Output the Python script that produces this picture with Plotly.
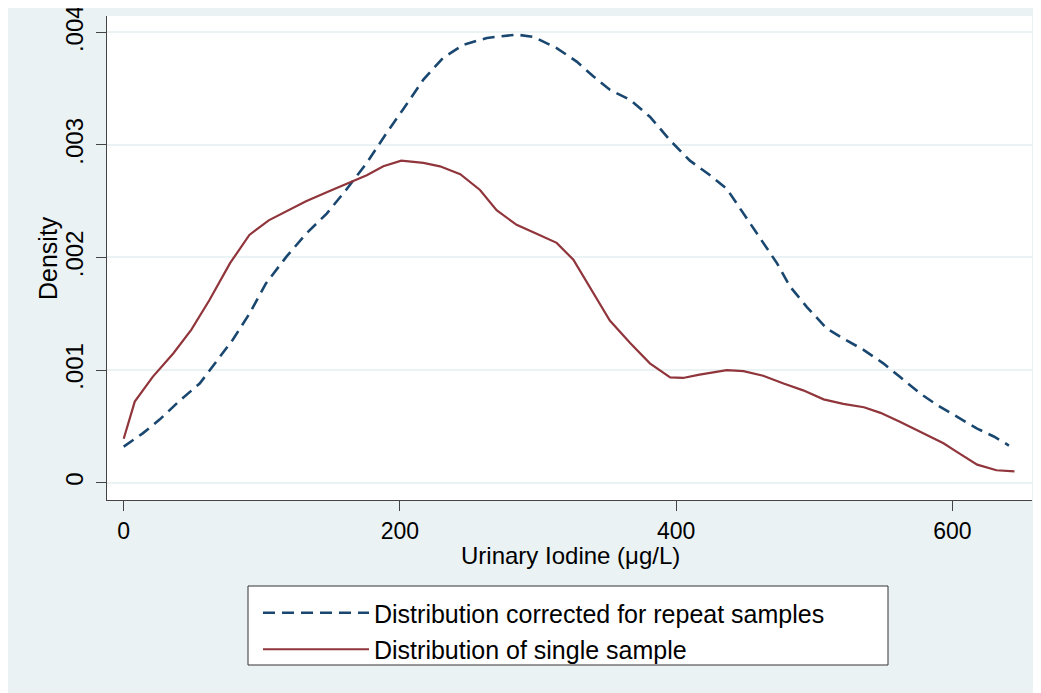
import plotly.graph_objects as go

# Distribution corrected for repeat samples (dashed)
corr_x = [0, 14, 26, 40.6, 55, 69.6, 79, 91, 103, 118, 132, 147, 161, 176, 190, 202, 217, 231, 246, 263,
          284.5, 296.6, 313.5, 328, 340, 352, 366.7, 381, 395.7, 410, 424.6, 436.7, 448.8, 460.9, 473,
          482.6, 494.7, 509, 521, 535.7, 550, 562, 577, 589, 603, 618, 630, 641]
corr_y = [0.32, 0.44, 0.56, 0.73, 0.88, 1.12, 1.27, 1.50, 1.77, 2.01, 2.21, 2.39, 2.60, 2.84, 3.10, 3.31,
          3.58, 3.77, 3.89, 3.95, 3.98, 3.96, 3.86, 3.74, 3.61, 3.49, 3.40, 3.25, 3.04, 2.86, 2.73, 2.61,
          2.39, 2.18, 1.95, 1.74, 1.56, 1.37, 1.28, 1.18, 1.06, 0.94, 0.79, 0.69, 0.59, 0.48, 0.41, 0.33]

# Distribution of single sample (solid)
single_x = [0, 8, 21, 36, 49, 62, 77, 91, 105, 118, 132, 147, 164, 176, 188, 201, 217, 229, 243.7, 258,
            270, 284.5, 299, 313.5, 325.6, 340, 352, 366.7, 381, 395.7, 405, 417, 436.7, 448.8, 463,
            477.8, 492, 506.8, 521, 536, 548, 562, 579, 593.6, 603, 618, 632, 645]
single_y = [0.39, 0.72, 0.94, 1.15, 1.36, 1.62, 1.95, 2.20, 2.33, 2.41, 2.50, 2.58, 2.67, 2.73, 2.81, 2.86,
            2.84, 2.81, 2.74, 2.60, 2.42, 2.29, 2.21, 2.13, 1.98, 1.68, 1.44, 1.24, 1.06, 0.935, 0.93,
            0.96, 1.00, 0.99, 0.95, 0.88, 0.82, 0.74, 0.70, 0.67, 0.62, 0.54, 0.44, 0.35, 0.275, 0.16,
            0.11, 0.10]

x_ticks = [0, 200, 400, 600]
x_tick_labels = ["0", "200", "400", "600"]
y_ticks = [0, 0.001, 0.002, 0.003, 0.004]
y_tick_labels = ["0", ".001", ".002", ".003", ".004"]

corr_y = [v / 1000 for v in corr_y]
single_y = [v / 1000 for v in single_y]

FONT = "Liberation Sans"
BG = "#EAF2F3"

fig = go.Figure()
fig.add_trace(go.Scatter(x=corr_x, y=corr_y, mode="lines",
                         name="Distribution corrected for repeat samples",
                         line=dict(color="#1A476F", width=2.6, dash="12px,7px"),
                         legendgroup="a"))
fig.add_trace(go.Scatter(x=single_x, y=single_y, mode="lines",
                         name="Distribution of single sample",
                         line=dict(color="#90353B", width=2.2),
                         legendgroup="b"))

# page sits inside the default 8px body margin of the html page
OFF = 8
W, H = 1033, 685
L, R, T, B = 107 - OFF, 9, 16 - OFF, 193
pw, ph = W - L - R, H - T - B

def px_x(p):
    return (p - OFF - L) / pw

def px_y(p):
    return (H - B - (p - OFF)) / ph

fig.update_layout(
    width=W, height=H,
    margin=dict(l=L, r=R, t=T, b=B, autoexpand=False),
    paper_bgcolor=BG, plot_bgcolor="white",
    font=dict(family=FONT, color="black", size=24),
    showlegend=True,
    legend=dict(x=px_x(258), y=px_y(590), xanchor="left", yanchor="top",
                bgcolor="rgba(0,0,0,0)", borderwidth=0,
                font=dict(size=25, family=FONT), itemwidth=106,
                traceorder="grouped", tracegroupgap=1),
    xaxis=dict(range=[-12.1, 657.7], tickvals=x_ticks, ticktext=x_tick_labels,
               showgrid=False, zeroline=False, showline=True, linecolor="#444", linewidth=1,
               ticks="outside", ticklen=10, tickcolor="#444", tickwidth=1.3,
               tickfont=dict(size=23), automargin=False),
    yaxis=dict(range=[-0.000154, 0.004145], tickvals=y_ticks, ticktext=y_tick_labels,
               showgrid=True, gridcolor=BG, gridwidth=2, zeroline=False,
               showline=True, linecolor="#444", linewidth=1,
               ticks="outside", ticklen=10, tickcolor="#444", tickwidth=1.3,
               tickangle=-90, tickfont=dict(size=24), automargin=False,
               ticklabelstandoff=3, ticklabeloverflow="allow"),
    annotations=[
        dict(text="Urinary Iodine (μg/L)", xref="paper", yref="paper",
             x=px_x(570), y=px_y(555), xanchor="center", yanchor="middle",
             showarrow=False, font=dict(size=24, family=FONT)),
        dict(text="Density", xref="paper", yref="paper", textangle=-90,
             x=px_x(48), y=0.5, xanchor="center", yanchor="middle",
             showarrow=False, font=dict(size=25, family=FONT)),
    ],
    shapes=[
        dict(type="rect", xref="paper", yref="paper",
             x0=px_x(248), x1=px_x(888), y0=px_y(586), y1=px_y(665),
             fillcolor="white", line=dict(color="#333", width=1), layer="below"),
    ],
)

fig.write_html("out.html")
